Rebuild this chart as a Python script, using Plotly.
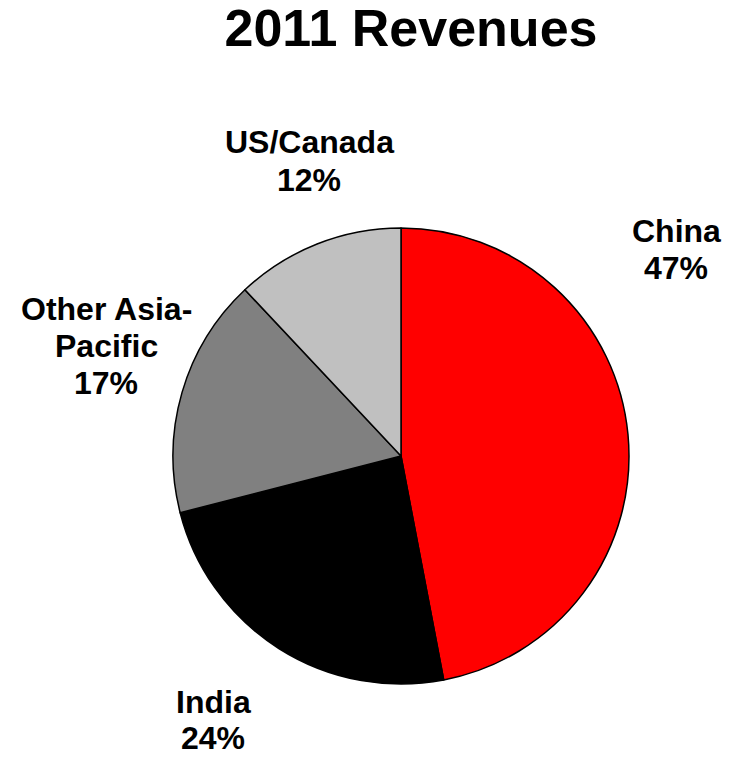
import plotly.graph_objects as go

# Revenue share by region, 2011 (percent)
regions = ["China", "India", "Other Asia-Pacific", "US/Canada"]
shares = [47, 24, 17, 12]
colors = ["#FF0000", "#000000", "#808080", "#C0C0C0"]

# Label text lines (the value line is appended from shares)
label_lines = {
    "China": ["China"],
    "India": ["India"],
    "Other Asia-Pacific": ["Other Asia-", "Pacific"],
    "US/Canada": ["US/Canada"],
}
# Label placement: x centre and the y centre of each line, in pixels
W, H = 740, 757
label_x = {"China": 676, "India": 213, "Other Asia-Pacific": 106, "US/Canada": 309}
label_y = {
    "China": [231, 268],
    "India": [702, 738],
    "Other Asia-Pacific": [309, 346, 383],
    "US/Canada": [142, 180],
}

# Pie geometry in pixels
cx, cy, r = 401, 456, 228

fig = go.Figure(
    go.Pie(
        labels=regions,
        values=shares,
        sort=False,
        direction="clockwise",
        rotation=0,
        marker=dict(colors=colors, line=dict(color="#000000", width=1.5)),
        textinfo="none",
        hoverinfo="label+percent",
        showlegend=False,
        domain=dict(
            x=[(cx - r) / W, (cx + r) / W],
            y=[(H - cy - r) / H, (H - cy + r) / H],
        ),
    )
)

font = dict(family="Arial, Liberation Sans, sans-serif", size=32, color="#000000", weight="bold")

annotations = []
for name, val in zip(regions, shares):
    lines = label_lines[name] + [f"{val}%"]
    for text, py in zip(lines, label_y[name]):
        annotations.append(
            dict(
                text=text,
                x=label_x[name] / W,
                y=(H - py) / H,
                xref="paper",
                yref="paper",
                xanchor="center",
                yanchor="middle",
                showarrow=False,
                font=font,
            )
        )

fig.update_layout(
    width=W,
    height=H,
    margin=dict(l=0, r=0, t=0, b=0),
    paper_bgcolor="#FFFFFF",
    plot_bgcolor="#FFFFFF",
    title=dict(
        text="2011 Revenues",
        x=411 / W,
        xanchor="center",
        y=(H - 28) / H,
        yanchor="middle",
        font=dict(family="Arial, Liberation Sans, sans-serif", size=52, color="#000000", weight="bold"),
    ),
    annotations=annotations,
)

fig.write_html("out.html")
